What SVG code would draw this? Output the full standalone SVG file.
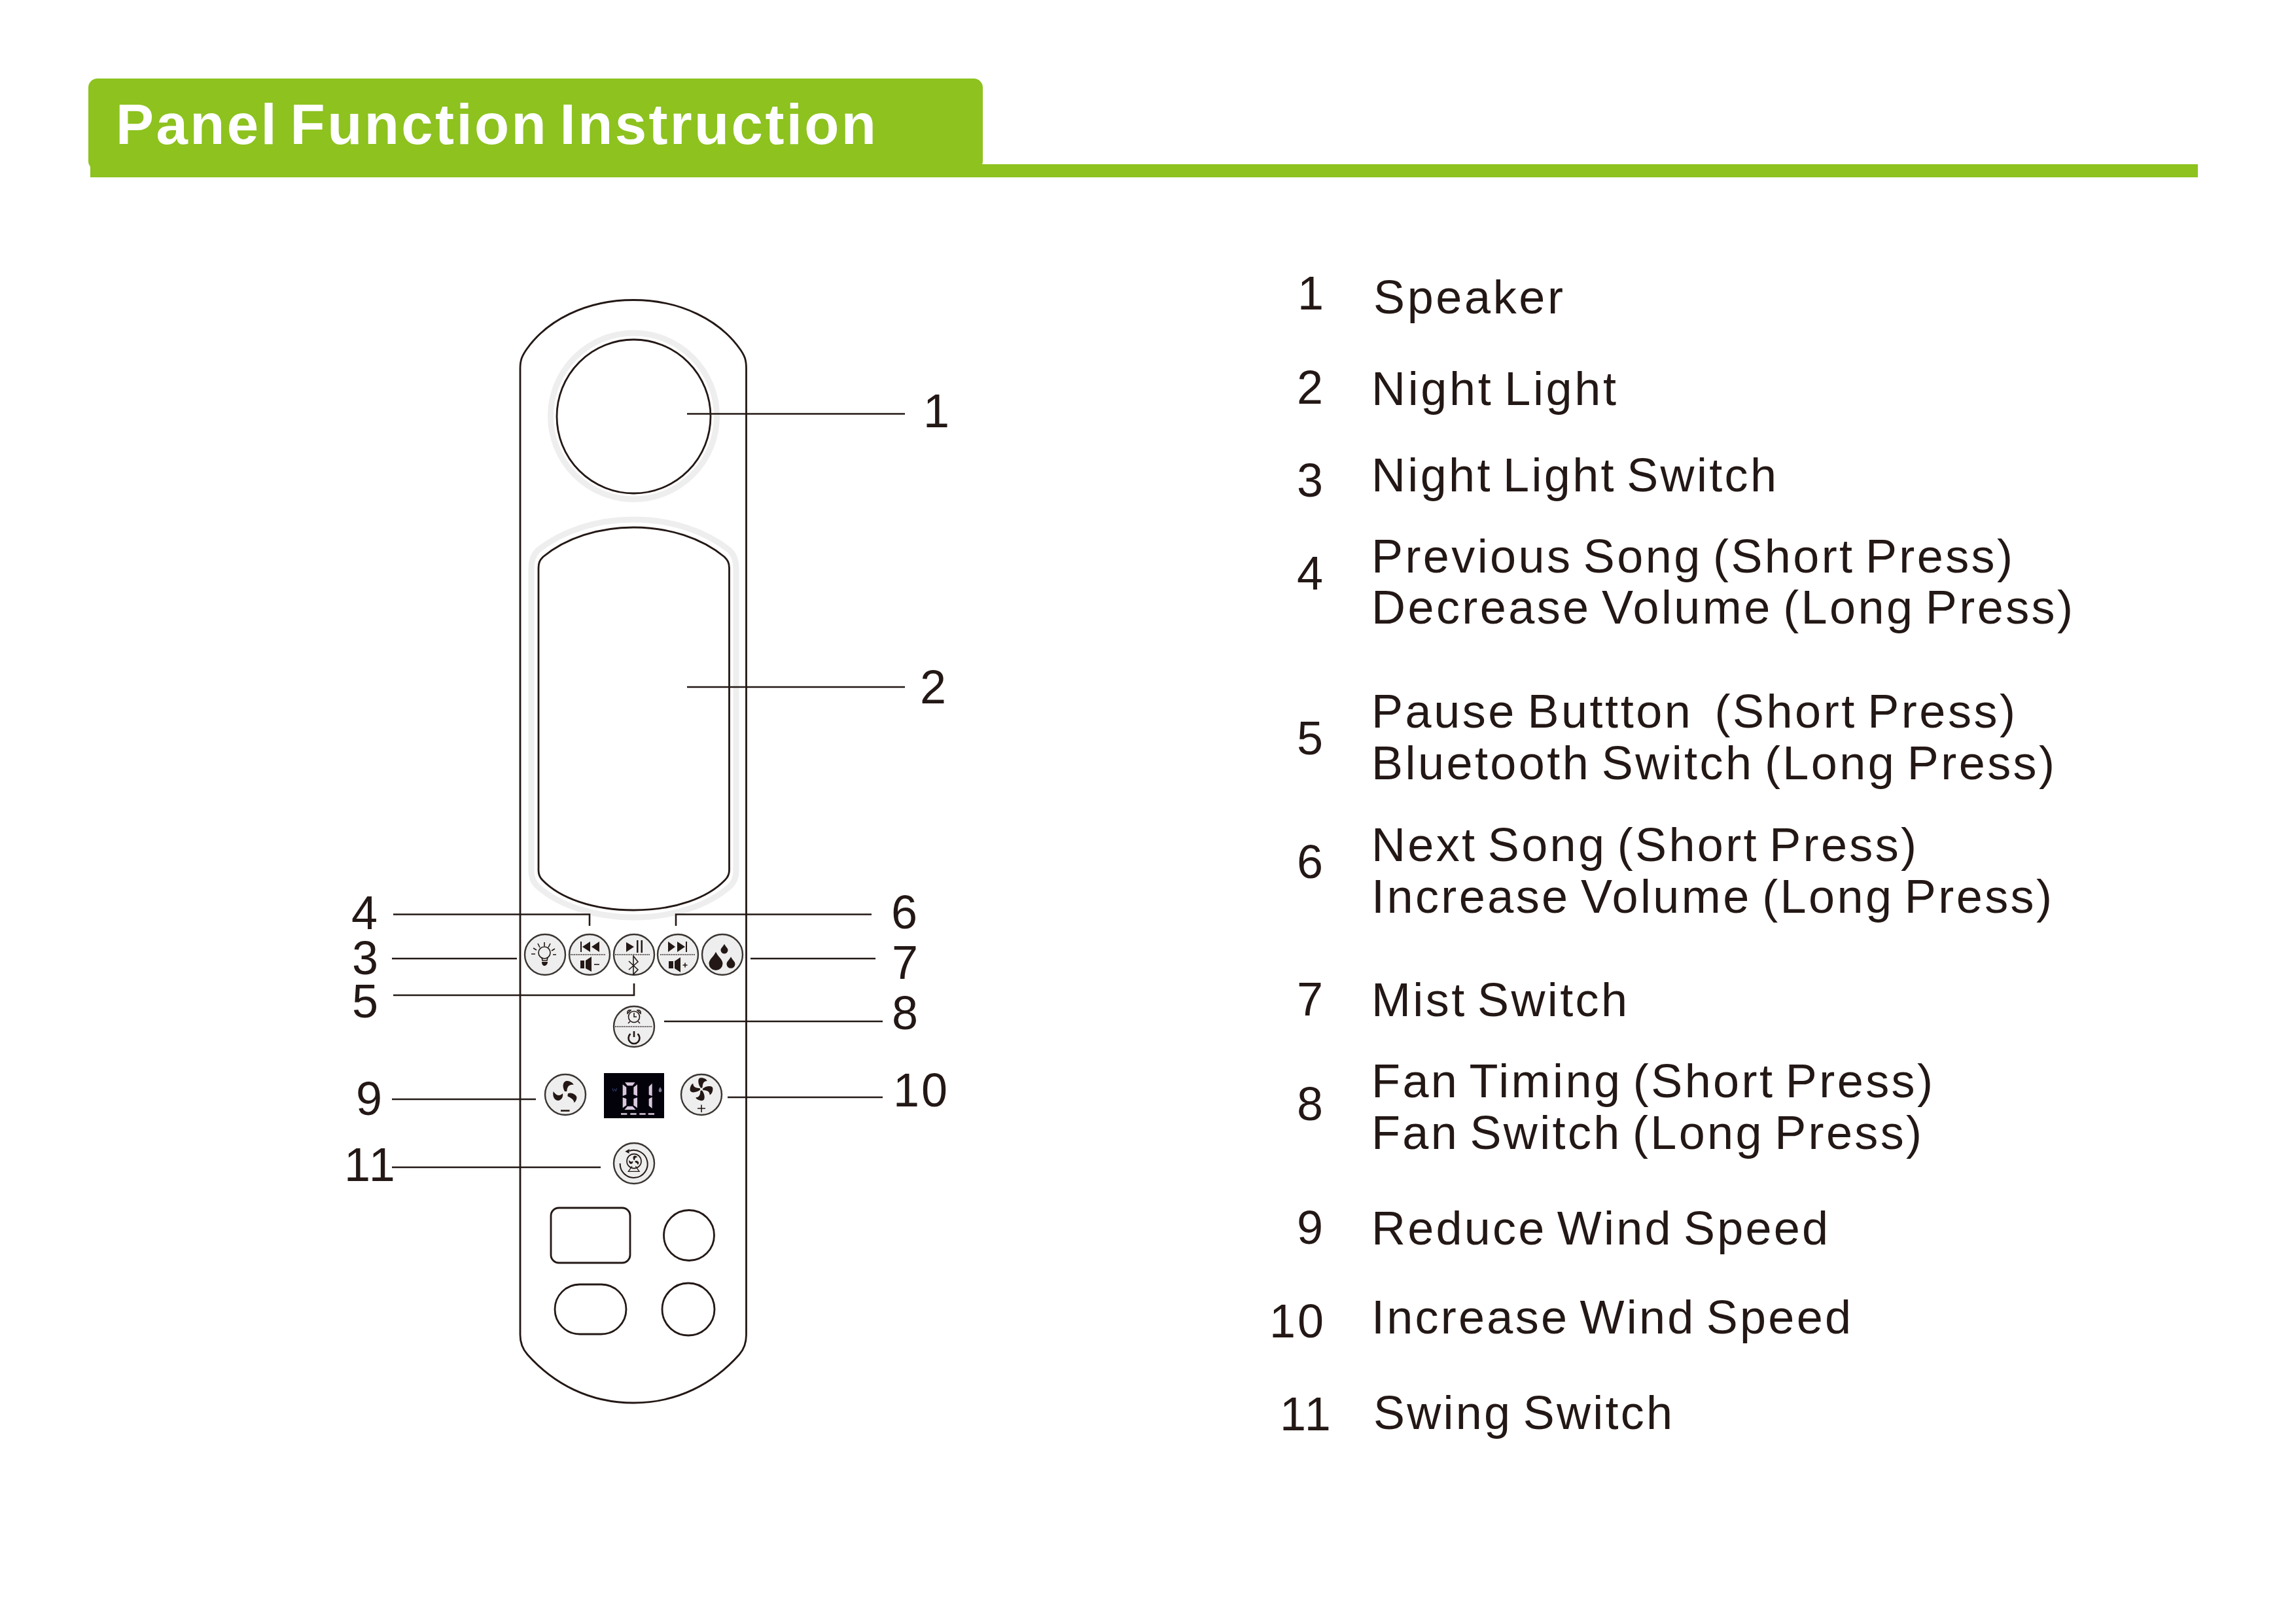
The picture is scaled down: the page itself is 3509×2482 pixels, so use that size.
<svg xmlns="http://www.w3.org/2000/svg" width="3509" height="2482" viewBox="0 0 3509 2482">
<style>
.t{font-family:"Liberation Sans",Arial,sans-serif;font-size:72px;fill:#231815}
.l{word-spacing:-7px}
.h{font-family:"Liberation Sans",Arial,sans-serif;font-size:87px;font-weight:700;fill:#fff;word-spacing:-10px}
.o{fill:none;stroke:#231815;stroke-width:2.8}
.halo{fill:none;stroke:#eeeeef;stroke-width:9}
.ldr{fill:none;stroke:#231815;stroke-width:2.6}
.btn{fill:#eeeeee;stroke:#3a3532;stroke-width:2.4}
.dot{stroke:#231815;stroke-width:1.6;stroke-dasharray:1.6 1.1;fill:none}
.k{fill:#231815}
.s{fill:none;stroke:#231815;stroke-width:1.6}
.s2{fill:none;stroke:#231815;stroke-width:2.6}
.seg{fill:#d9c8de}
</style>
<defs>
<circle id="bc" r="31" class="btn"/>
<path id="drop" d="M0,-1.5C.3,-.8 1,-.4 1,.2A1,1 0 1 1 -1,.2C-1,-.4 -.3,-.8 0,-1.5Z" class="k"/>
<path id="blade4" d="M-2,-5C-15,-18 -20,-50 -5,-52C10,-54 25,-45 26,-38C12,-38 5,-28 5,-8Z" class="k"/>
<g id="fan3">
<path d="M-3,-12C-18,-40 -8,-62 10,-60C24,-58 36,-50 38,-42C20,-46 8,-36 7,-12Z" class="k"/>
<path d="M12,-2C28,-10 50,4 52,14C53,26 46,36 40,40C40,26 28,20 10,10Z" class="k"/>
<path d="M-12,-3C-25,12 -42,8 -55,-12C-60,10 -50,30 -33,30C-20,30 -8,15 -12,-3Z" class="k"/>
</g>
</defs>
<rect width="3509" height="2482" fill="#fff"/>

<g id="header">
<rect x="135" y="120" width="1367" height="140" rx="14" fill="#8dc21f"/>
<rect x="138" y="251" width="3221" height="20" fill="#8dc21f"/>
<text class="h" x="177" y="220" textLength="1162">Panel Function Instruction</text>
</g>

<g id="panel-body"><path class="o" d="M795,563C795,550 798,544 804,535C835,490 895,458.5 968,458.5C1041,458.5 1101,490 1132,535C1138,544 1140.5,550 1140.5,563V2040C1140.5,2052 1137,2062 1130,2070C1090,2115 1035,2144 968,2144C901,2144 846,2115 806,2070C799,2062 795,2052 795,2040Z"/></g>

<g id="speaker">
<circle class="halo" cx="968.5" cy="636" r="127"/>
<circle class="o" cx="968.5" cy="636.5" r="117.5"/>
</g>

<g id="night-light">
<path class="halo" d="M812,868C812,856 815,848 822,841C860,811 912,794 968.5,794C1025,794 1077,811 1115,841C1122,848 1125,856 1125,868V1332C1125,1342 1122,1348 1116,1354C1082,1385 1025,1402 968.5,1402C912,1402 855,1385 821,1354C815,1348 812,1342 812,1332Z"/>
<path class="o" d="M823,868C823,860 825,856 830,851C865,822 915,806 968.5,806C1022,806 1072,822 1107,851C1112,856 1114.5,860 1114.5,868V1330C1114.5,1337 1112,1341 1108,1345C1082,1372 1032,1391 968.5,1391C905,1391 855,1372 829,1345C825,1341 823,1337 823,1330Z"/>
</g>

<g id="btn-light" transform="translate(833,1459)">
<use href="#bc"/>
<circle class="s" cx="-1" cy="-3" r="9"/>
<path class="s" d="M-5,4L-4,9H3L4,4M-1,-19V-13M-11,-17L-8,-11M8,-17L5,-11M-18,-10L-13,-7M15,-9L10,-6M-21,-1H-15M12,0H17"/>
<path class="k" d="M-5,11H4C4,15 1,17 -1,17C-3,17 -5,15 -5,11Z"/>
</g>

<g id="btn-prev" transform="translate(901,1459)">
<use href="#bc"/>
<path class="dot" d="M-29,0H25"/>
<path class="k" d="M-14,-20H-12V-4H-14ZM-11,-12L1,-20V-4ZM3,-12L15,-20V-4ZM-14,9H-8V21H-14ZM-6,9L3,3V26L-6,21Z"/>
<path class="s" d="M7,15H15"/>
</g>

<g id="btn-play" transform="translate(969,1459)">
<use href="#bc"/>
<path class="dot" d="M-29,0H25"/>
<path class="k" d="M-12,-19V-4L0,-12ZM4,-22H6.5V-3H4ZM10.5,-22H13V-3H10.5Z"/>
<path class="s" d="M-8,10L6,23L-1,30V2L6,11L-8,23"/>
</g>

<g id="btn-next" transform="translate(1036,1459)">
<use href="#bc"/>
<path class="dot" d="M-27,0H27"/>
<path class="k" d="M-15,-20V-4L-4,-12ZM-1,-20V-4L11,-12ZM12,-20H14V-4H12ZM-14,10H-7V21H-14ZM-5,10L4,4V27L-5,21Z"/>
<path class="s" d="M7.5,16H14.5M11,12.5V19.5"/>
</g>

<g id="btn-mist" transform="translate(1104,1459)">
<use href="#bc"/>
<use href="#drop" transform="translate(-10,11.5) scale(10.5)"/>
<use href="#drop" transform="translate(3,-8) scale(5.5)"/>
<use href="#drop" transform="translate(13,13) scale(6.5)"/>
</g>

<g id="btn-timer" transform="translate(969,1569)">
<use href="#bc"/>
<path class="dot" d="M-29,0H28"/>
<circle class="s" cx="0" cy="-15" r="8.5"/>
<path class="s" d="M0,-21V-15H4M-6,-8L-9,-5M6,-8L9,-5M-10,-20C-11,-24 -8,-26 -5,-25ZM10,-20C11,-24 8,-26 5,-25Z"/>
<path class="s2" d="M0,7V16M-5.5,11A8.5,8.5 0 1 0 5.5,11"/>
</g>

<g id="btn-fan-minus" transform="translate(864,1673)">
<use href="#bc"/>
<g transform="scale(.3333)"><use href="#fan3" transform="translate(0,-3)"/></g>
<path class="s2" d="M-7,24.5H6.500"/>
</g>

<g id="display" transform="translate(900,1620) scale(.3333)">
<rect x="69" y="60" width="276" height="207" fill="#03010a"/>
<path class="seg" d="M165,103H212L200,118H177ZM155,112L172,125V158L155,165ZM222,112L205,125V158L222,165ZM155,172L172,178V208L155,220ZM222,172L205,178V208L222,220ZM177,212H200L215,228H163ZM290,107L275,122V160L290,165ZM290,170L275,178V210L290,222Z"/>
<path class="seg" d="M147,244H175V251H147ZM190,244H218V251H190ZM232,244H260V251H232ZM272,244H300V251H272Z"/>
<path d="M108,129L112,144L118,133L124,144L128,129" fill="none" stroke="#2f3d6b" stroke-width="3"/>
<path d="M327,124C321,134 318,138 321,144C324,149 330,149 333,144C336,138 333,134 327,124Z" fill="#7d7d98"/>
</g>

<g id="btn-fan-plus" transform="translate(1072,1673)">
<use href="#bc"/>
<g transform="translate(0,-8.300) scale(.3333)">
<use href="#blade4"/>
<use href="#blade4" transform="rotate(90)"/>
<use href="#blade4" transform="rotate(180)"/>
<use href="#blade4" transform="rotate(270)"/>
</g>
<path class="s" d="M0,15.500V27M-6,21H6"/>
</g>

<g id="btn-swing" transform="translate(969,1778)">
<use href="#bc"/>
<g transform="scale(.3333)">
<circle cx="0" cy="-10" r="33" fill="none" stroke="#231815" stroke-width="5"/>
<use href="#fan3" transform="translate(0,-10) scale(.42)"/>
<path d="M-9,13L-26,37H24L7,13" fill="none" stroke="#231815" stroke-width="4"/>
<path d="M-21,-57A63,63 0 1 1 -64,0" fill="none" stroke="#231815" stroke-width="6"/>
<path class="k" d="M-41,-55L-21,-66L-23,-45Z"/>
</g>
</g>

<g id="outlet-rect"><rect class="o" x="842" y="1846" width="121" height="84" rx="12"/></g>
<g id="outlet-circle-a"><circle class="o" cx="1053" cy="1888" r="38.500"/></g>
<g id="outlet-pill"><rect class="o" x="848" y="1963" width="109" height="76" rx="38"/></g>
<g id="outlet-circle-b"><circle class="o" cx="1052" cy="2001" r="40"/></g>

<g id="connectors">
<path class="ldr" d="M1050,632.500H1383"/>
<path class="ldr" d="M1050,1050H1383"/>
<path class="ldr" d="M601,1397.500H901V1415"/>
<path class="ldr" d="M1332,1397.500H1033V1415"/>
<path class="ldr" d="M599,1465H790"/>
<path class="ldr" d="M1147,1465H1338"/>
<path class="ldr" d="M601,1521H969V1503"/>
<path class="ldr" d="M1015,1561H1349"/>
<path class="ldr" d="M599,1680H819"/>
<path class="ldr" d="M1112,1677H1349"/>
<path class="ldr" d="M599,1784H918"/>
</g>

<g id="callouts">
<text class="t" x="1411" y="653">1</text>
<text class="t" x="1406" y="1075">2</text>
<text class="t" x="538" y="1489">3</text>
<text class="t" x="537" y="1420">4</text>
<text class="t" x="538" y="1555">5</text>
<text class="t" x="1362" y="1419">6</text>
<text class="t" x="1363" y="1496">7</text>
<text class="t" x="1363" y="1573">8</text>
<text class="t" x="544" y="1704">9</text>
<text class="t" x="1365" y="1691" letter-spacing="3">10</text>
<text class="t" x="526" y="1805" letter-spacing="3">11</text>
</g>

<g id="legend">
<text class="t" x="1983" y="473">1</text>
<text class="t" x="1982" y="617">2</text>
<text class="t" x="1982" y="759">3</text>
<text class="t" x="1982" y="901">4</text>
<text class="t" x="1982" y="1153">5</text>
<text class="t" x="1982" y="1342">6</text>
<text class="t" x="1982" y="1552">7</text>
<text class="t" x="1982" y="1712">8</text>
<text class="t" x="1982" y="1901">9</text>
<text class="t" x="1940" y="2044" letter-spacing="3">10</text>
<text class="t" x="1956" y="2186" letter-spacing="3">11</text>
<text class="t" x="2099" y="478.500" textLength="290">Speaker</text>
<text class="t l" x="2096" y="619" textLength="374">Night Light</text>
<text class="t l" x="2096" y="751" textLength="619">Night Light Switch</text>
<text class="t l" x="2096" y="874.500" textLength="980">Previous Song (Short Press)</text>
<text class="t l" x="2096" y="953" textLength="1072">Decrease Volume (Long Press)</text>
<text class="t l" x="2096" y="1112" textLength="984" xml:space="preserve">Pause Buttton  (Short Press)</text>
<text class="t l" x="2096" y="1191" textLength="1044">Bluetooth Switch (Long Press)</text>
<text class="t l" x="2096" y="1316" textLength="833">Next Song (Short Press)</text>
<text class="t l" x="2096" y="1395" textLength="1040">Increase Volume (Long Press)</text>
<text class="t l" x="2096" y="1553" textLength="391">Mist Switch</text>
<text class="t l" x="2096" y="1677" textLength="858">Fan Timing (Short Press)</text>
<text class="t l" x="2096" y="1756" textLength="841">Fan Switch (Long Press)</text>
<text class="t l" x="2096" y="1902" textLength="698">Reduce Wind Speed</text>
<text class="t l" x="2096" y="2037.500" textLength="733">Increase Wind Speed</text>
<text class="t l" x="2099" y="2184" textLength="457">Swing Switch</text>
</g>
</svg>
